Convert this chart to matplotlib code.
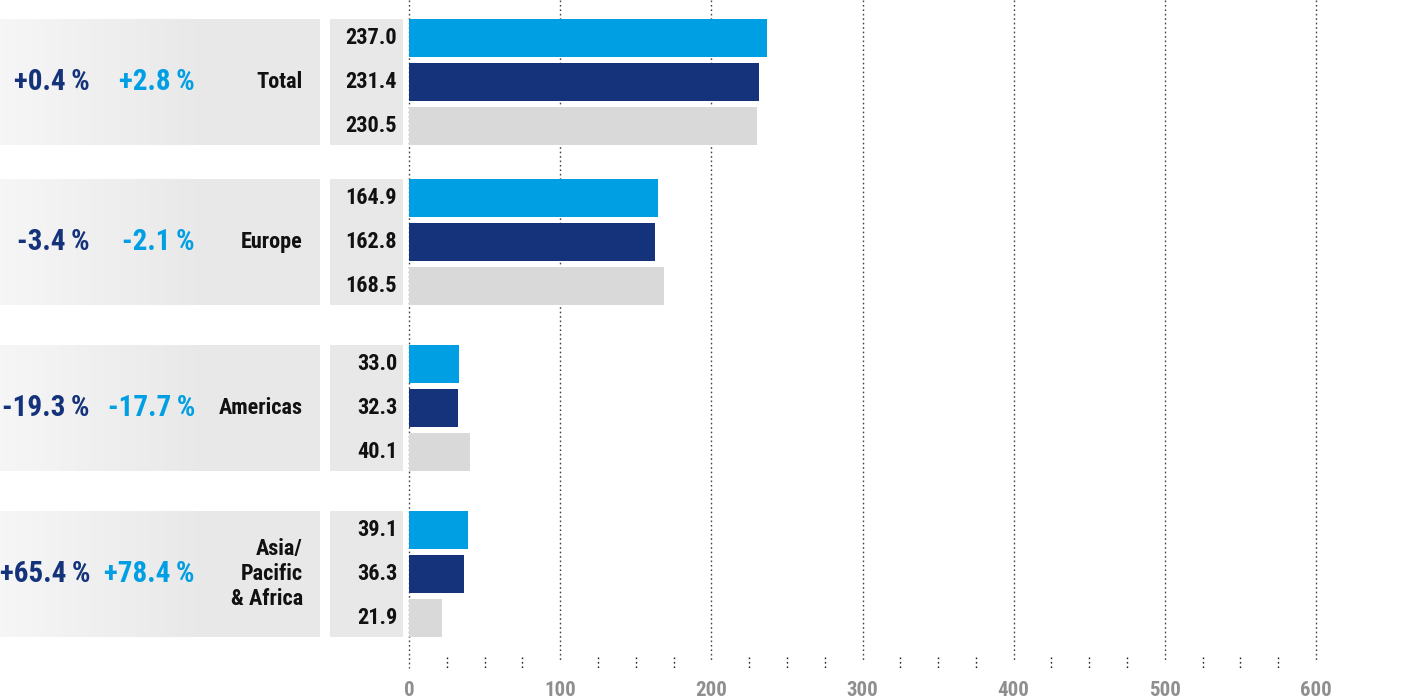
import numpy as np
from matplotlib import pyplot as plt
from matplotlib import font_manager
from matplotlib.patches import Rectangle

# ***** data *****#
regions = ['Total', 'Europe', 'Americas', 'Asia/\nPacific\n& Africa']
current = [237.0, 164.9, 33.0, 39.1]     # light blue
previous = [231.4, 162.8, 32.3, 36.3]    # dark blue
older = [230.5, 168.5, 40.1, 21.9]       # grey
pct_dark = ['+0.4\u2009%', '-3.4\u2009%', '-19.3\u2009%', '+65.4\u2009%']
pct_light = ['+2.8\u2009%', '-2.1\u2009%', '-17.7\u2009%', '+78.4\u2009%']
ticks = [0, 100, 200, 300, 400, 500, 600]

# layout (pixel rows of each group top)
group_top = [19, 179, 345, 511]
bar_h = 38
bar_step = 44

LIGHT = '#009fe3'
DARK = '#14337a'
GREY = '#d9d9d9'
PANEL = '#e8e8e8'

names = set(f.name for f in font_manager.fontManager.ttflist)
fam = 'DejaVu Sans'
for cand in ['Roboto Condensed', 'Liberation Sans Narrow', 'Open Sans Condensed']:
    if cand in names:
        fam = cand
        break
plt.rcParams['font.family'] = [fam, 'DejaVu Sans']
plt.rcParams['font.weight'] = 'bold'

W, H = 1423, 697
fig = plt.figure(figsize=(W / 100, H / 100), dpi=100)
ax = fig.add_axes([0, 0, 1, 1])

x0 = 409
scale = 600 / (1316 - 409)  # data units per pixel


def px(p):
    return (p - x0) * scale


# grid lines
for t in ticks:
    bottom = 668 if t == 0 else 662
    ax.plot([t, t], [0, bottom], color='#444444', lw=1, ls=(0, (1.2, 2)), zorder=1)
for t in np.arange(25, 600, 25):
    if t % 100 == 0:
        continue
    ax.plot([t, t], [657, 668], color='#222222', lw=1, ls=(0, (1.2, 2)), zorder=1)
for t in ticks:
    ax.text(t, 690, str(t), ha='center', va='center', color='#8f8f8f', fontsize=15)

# gradient for left panel
grad = np.linspace(0, 1, 256)
grad = np.clip(grad / 0.65, 0, 1)
rgb = np.empty((1, 256, 3))
c0 = np.array([0.965, 0.965, 0.965])
c1 = np.array([0.91, 0.91, 0.91])
for k in range(3):
    rgb[0, :, k] = c0[k] + (c1[k] - c0[k]) * grad

for i, top in enumerate(group_top):
    bot = top + 2 * bar_step + bar_h
    mid = (top + bot) / 2
    ax.imshow(rgb, extent=[px(0), px(320), bot, top], aspect='auto', zorder=0)
    ax.add_patch(Rectangle((px(330), top), px(403) - px(330), bot - top,
                           color=PANEL, lw=0, zorder=0))
    vals = [current[i], previous[i], older[i]]
    cols = [LIGHT, DARK, GREY]
    for j in range(3):
        y = top + j * bar_step
        ax.barh(y + bar_h / 2, vals[j], height=bar_h, color=cols[j], zorder=2)
        ax.text(px(397), y + bar_h / 2, '%.1f' % vals[j], ha='right', va='center',
                fontsize=16, color='#111111')
    ax.text(px(90), mid, pct_dark[i], ha='right', va='center', fontsize=21, color=DARK)
    ax.text(px(195), mid, pct_light[i], ha='right', va='center', fontsize=21, color=LIGHT)
    ax.text(px(303), mid, regions[i], ha='right', va='center', fontsize=16,
            color='#111111', linespacing=1.2)

ax.set_xlim(px(0), px(W))
ax.set_ylim(H, 0)
ax.axis('off')
fig.savefig('out.png', dpi=100)
